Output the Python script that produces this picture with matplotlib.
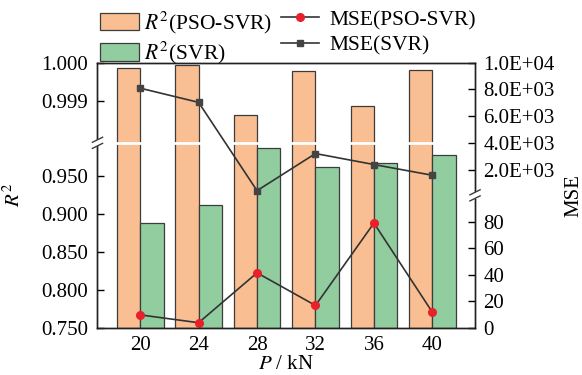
"""
    Graphique : R2 et MSE des modèles PSO-SVR / SVR en fonction de la charge P
"""
import numpy as np
import matplotlib
matplotlib.use("Agg")
import matplotlib.pyplot as plt
from matplotlib.patches import Patch
from matplotlib.lines import Line2D

# Données
charges = ["20", "24", "28", "32", "36", "40"]
r2_pso_svr = [0.99986, 0.99994, 0.99865, 0.99979, 0.99887, 0.99981]
r2_svr = [0.8886, 0.9122, 0.9872, 0.9622, 0.9671, 0.9776]
mse_pso_svr = [9.9, 4.0, 41.6, 17.0, 79.1, 11.9]
mse_svr = [8100, 7040, 450, 3220, 2400, 1600]

r2_ticks = [0.75, 0.80, 0.85, 0.90, 0.95, 0.999, 1.000]
r2_ticklabels = ["0.750", "0.800", "0.850", "0.900", "0.950", "0.999", "1.000"]
mse_ticks = [0, 20, 40, 60, 80, 2000, 4000, 6000, 8000, 10000]
mse_ticklabels = ["0", "20", "40", "60", "80",
                  "2.0E+03", "4.0E+03", "6.0E+03", "8.0E+03", "1.0E+04"]

# axes coupés : valeur -> fraction de hauteur (par morceaux)
r2_vals = [0.75, 0.9934, 0.99793, 1.0]
r2_pos = [0.0, 0.698, 0.6981, 1.0]
mse_vals = [0, 100, 10000]
mse_pos = [0.0, 0.5, 1.0]

ORANGE = "#F9BE92"
GREEN = "#91CD9F"
EDGE = "#3C3C3C"
RED = "#E8202A"
DARK = "#333333"
FS = 15


def echelle(vals, pos):
    fwd = lambda v: np.interp(v, vals, pos)
    inv = lambda p: np.interp(p, pos, vals)
    return fwd, inv


def coupure(ax, x, y):
    """ Dessine le symbole // sur l'axe vertical (coordonnées axes)."""
    tr = ax.transAxes
    ax.plot([x, x], [y - 0.012, y + 0.012], color="white", lw=3,
            transform=tr, clip_on=False, zorder=10, solid_capstyle="butt")
    dx, dy, off = 0.0135, 0.0095, 0.0115
    for o in (-off, off):
        ax.plot([x - dx, x + dx], [y + o - dy, y + o + dy], color=EDGE,
                lw=1.0, transform=tr, clip_on=False, zorder=11)


plt.rcParams["font.family"] = ["Liberation Serif", "DejaVu Serif"]
plt.rcParams["mathtext.fontset"] = "stix"
plt.rcParams["font.size"] = FS

fig = plt.figure(figsize=(5.82, 3.75), dpi=100)
ax = fig.add_axes([0.1675, 0.1253, 0.6487, 0.7075])
ax2 = ax.twinx()

x = np.arange(len(charges))
w = 0.4

ax.set_yscale("function", functions=echelle(r2_vals, r2_pos))
ax.bar(x - w / 2, np.array(r2_pso_svr) - 0.75, w, bottom=0.75,
       color=ORANGE, edgecolor=EDGE, linewidth=0.9, zorder=2)
ax.bar(x + w / 2, np.array(r2_svr) - 0.75, w, bottom=0.75,
       color=GREEN, edgecolor=EDGE, linewidth=0.9, zorder=2)
ax.set_ylim(0.75, 1.0)
ax.set_xlim(-0.73, 5.73)
ax.set_yticks(r2_ticks)
ax.set_yticklabels(r2_ticklabels)
ax.yaxis.set_minor_locator(matplotlib.ticker.NullLocator())
ax.set_xticks(x)
ax.set_xticklabels(charges)
ax.tick_params(axis="x", length=0, pad=6)
ax.tick_params(axis="y", direction="in", length=5, width=1, pad=7)
ax.set_xlabel("$P$ / kN", labelpad=0)
ax.set_ylabel("$R^2$")
ax.yaxis.set_label_coords(-0.192, 0.5)
# trait blanc de coupure à travers les barres
ax.plot([0, 1], [0.698, 0.698], color="white", lw=2, transform=ax.transAxes,
        zorder=3, solid_capstyle="butt")

ax2.set_yscale("function", functions=echelle(mse_vals, mse_pos))
ax2.plot(x, mse_svr, color=DARK, lw=1.2, marker="s", ms=5,
         markerfacecolor="#444444", markeredgecolor="#444444")
ax2.plot(x, mse_pso_svr, color=DARK, lw=1.2, marker="o", ms=5.5,
         markerfacecolor=RED, markeredgecolor=RED)
ax2.set_ylim(0, 10000)
ax2.set_yticks(mse_ticks)
ax2.set_yticklabels(mse_ticklabels)
ax2.yaxis.set_minor_locator(matplotlib.ticker.NullLocator())
ax2.tick_params(axis="y", direction="in", length=5, width=1, pad=6)
ax2.set_ylabel("MSE")
ax2.yaxis.set_label_coords(1.236, 0.5)

for a in (ax, ax2):
    for s in a.spines.values():
        s.set_linewidth(1.0)
        s.set_color("#222222")

coupure(ax2, 0.0, 0.698)
coupure(ax2, 1.0, 0.5)

# légendes
h1 = [Patch(facecolor=ORANGE, edgecolor=EDGE, linewidth=0.9),
      Patch(facecolor=GREEN, edgecolor=EDGE, linewidth=0.9)]
l1 = ["$R^2$(PSO-SVR)", "$R^2$(SVR)"]
fig.legend(h1, l1, loc="upper left", bbox_to_anchor=(0.1718, 0.975),
           frameon=False, borderpad=0, borderaxespad=0,
           handlelength=1.8, handleheight=0.85, handletextpad=0.25,
           labelspacing=0.2, fontsize=15.5)
h2 = [Line2D([], [], color=DARK, lw=1.2, marker="o", ms=5.5,
             markerfacecolor=RED, markeredgecolor=RED),
      Line2D([], [], color=DARK, lw=1.2, marker="s", ms=5,
             markerfacecolor="#444444", markeredgecolor="#444444")]
l2 = ["MSE(PSO-SVR)", "MSE(SVR)"]
fig.legend(h2, l2, loc="upper left", bbox_to_anchor=(0.4823, 0.975),
           frameon=False, borderpad=0, borderaxespad=0,
           handlelength=1.8, handleheight=0.85, handletextpad=0.45,
           labelspacing=0.2, fontsize=15.5)

fig.savefig("out.png", dpi=100)
